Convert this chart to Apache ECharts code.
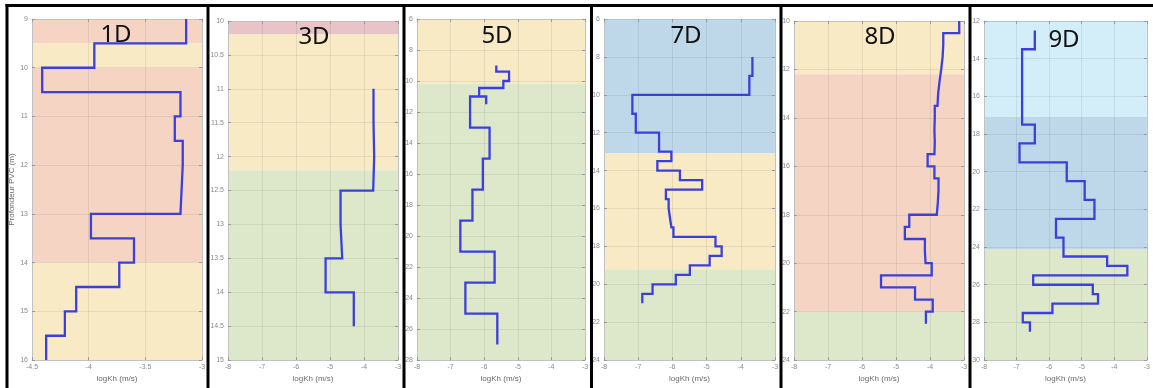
<!DOCTYPE html>
<html>
<head>
<meta charset="utf-8">
<script src="https://cdn.jsdelivr.net/npm/echarts@6/dist/echarts.min.js"></script>
<style>
  html, body { margin: 0; padding: 0; background: #ffffff; }
  #chart { width: 1153px; height: 388px; }
</style>
</head>
<body>
<div id="chart"></div>
<script>
// Forages : profils de perméabilité logKh en fonction de la profondeur
const titles = ['1D', '3D', '5D', '7D', '8D', '9D'];

// Limites de profondeur (m) et valeurs logKh (m/s) par tranche
const depth1D = [9, 9.5, 10, 10.5, 11, 11.5, 12, 12.5, 13, 13.5, 14, 14.5, 15, 15.5, 16];
const kh1D = [-3.14, -3.95, -4.41, -3.19, -3.24, -3.17, -3.18, -3.19, -3.98, -3.60, -3.73, -4.11, -4.21, -4.375];

const depth3D = [11, 11.5, 12, 12.5, 13, 13.5, 14, 14.5];
const kh3D = [-3.72, -3.70, -3.73, -4.69, -4.64, -5.13, -4.30];

const depth5D = [9, 9.4, 10, 10.45, 11, 11.5, 11, 13, 15, 17, 19, 21, 23, 25, 27];
const kh5D = [-5.64, -5.26, -5.43, -6.15, -5.94, -5.94, -6.42, -5.84, -6.04, -6.35, -6.71, -5.69, -6.56, -5.61];

const depth7D = [8, 9, 10, 11, 12, 13, 13.5, 14, 14.5, 15, 15.5, 16, 16.5, 17, 17.5, 18, 18.5, 19, 19.5, 20, 20.5, 21];
const kh7D = [-3.66, -3.75, -7.17, -7.07, -6.39, -6.03, -6.44, -5.78, -5.13, -6.19, -6.11, -6.07, -6.03, -5.97, -4.74, -4.56, -4.91, -5.49, -5.90, -6.58, -6.88];

const depth8D = [10, 10.5, 11, 11.5, 12, 12.5, 13, 13.5, 14, 14.5, 15, 15.5, 16, 16.5, 17, 17.5, 18, 18.5, 19, 19.5, 20, 20.5, 21, 21.5, 22, 22.5];
const kh8D = [-3.14, -3.61, -3.63, -3.67, -3.72, -3.76, -3.78, -3.86, -3.87, -3.86, -3.87, -4.07, -3.87, -3.75, -3.77, -3.80, -4.61, -4.74, -4.15, -4.13, -3.95, -5.44, -4.44, -3.92, -4.12];

const depth9D = [12.5, 13.5, 17.5, 18.5, 19.5, 20.5, 21.5, 22.5, 23.5, 24.5, 25, 25.5, 26, 26.5, 27, 27.5, 28, 28.5];
const kh9D = [-6.44, -6.83, -6.44, -6.91, -5.46, -4.91, -4.61, -5.79, -5.56, -4.22, -3.60, -6.49, -4.66, -4.50, -5.90, -6.81, -6.59];

// Horizons : [profondeur haut, profondeur bas, type de zone]
const bands1D = [[9, 9.5, 'rose'], [9.5, 10, 'jaune'], [10, 14, 'rose'], [14, 16, 'jaune']];
const bands3D = [[10, 10.2, 'mauve'], [10.2, 12.2, 'jaune'], [12.2, 15, 'vert']];
const bands5D = [[6, 10.2, 'jaune'], [10.2, 28, 'vert']];
const bands7D = [[6, 13.1, 'bleu'], [13.1, 19.2, 'jaune'], [19.2, 24, 'vert']];
const bands8D = [[10, 12.2, 'jaune'], [12.2, 22, 'rose'], [22, 24, 'vert']];
const bands9D = [[12, 17.1, 'bleuClair'], [17.1, 24.1, 'bleu'], [24.1, 30, 'vert']];

// Axes : [min, max, pas]
const xTicks = [[-4.5, -3, 0.5], [-8, -3, 1], [-8, -3, 1], [-8, -3, 1], [-8, -3, 1], [-8, -3, 1]];
const yTicks = [[9, 16, 1], [10, 15, 0.5], [6, 28, 2], [6, 24, 2], [10, 24, 2], [12, 30, 2]];

const depths = [depth1D, depth3D, depth5D, depth7D, depth8D, depth9D];
const khs = [kh1D, kh3D, kh5D, kh7D, kh8D, kh9D];
const bands = [bands1D, bands3D, bands5D, bands7D, bands8D, bands9D];

const zoneColors = {
  rose: '#f5d4c4',
  jaune: '#f9eac6',
  vert: '#dde8cb',
  bleu: '#bed8ea',
  bleuClair: '#d3edf9',
  mauve: '#e8c4c9'
};

// Cadres des graphiques : [gauche, haut, droite, bas] en pixels
const frames = [
  [32, 19, 202, 363],
  [228, 21, 398, 365],
  [417, 19, 585, 363],
  [604, 19, 775, 365],
  [794, 21, 964, 365],
  [984, 21, 1152, 364]
];
const titlePos = [[116, 35], [314, 37], [497, 36], [686, 36], [880, 37], [1064, 40]];
const dividers = [7, 208, 404, 591.5, 781, 970];

function stepPath(d, k) {
  const pts = [];
  for (let i = 0; i < k.length; i++) {
    pts.push([k[i], d[i]]);
    pts.push([k[i], d[i + 1]]);
  }
  return pts;
}

const labelStyle = { color: '#8a8a8a', fontSize: 7, fontFamily: 'Liberation Sans' };
const frameColor = '#c2c2c2';

const grid = [], xAxis = [], yAxis = [], series = [], graphic = [];

frames.forEach((f, i) => {
  grid.push({ left: f[0], top: f[1], width: f[2] - f[0], height: f[3] - f[1], show: false });
  const [xmin, xmax, xstep] = xTicks[i];
  const [ymin, ymax, ystep] = yTicks[i];
  const common = { gridIndex: i, type: 'value', z: 3 };
  xAxis.push({
    ...common, position: 'bottom', min: xmin, max: xmax, interval: xstep,
    name: 'logKh (m/s)', nameLocation: 'middle', nameGap: 14,
    nameTextStyle: { color: '#6a6a6a', fontSize: 8, fontFamily: 'Liberation Sans' },
    axisLine: { show: true, lineStyle: { color: frameColor, width: 1 } },
    axisTick: { show: true, inside: true, length: 3, lineStyle: { color: '#9a9a9a' } },
    axisLabel: { ...labelStyle, margin: 3 },
    splitLine: { show: true, lineStyle: { color: 'rgba(0,0,0,0.07)', width: 1 } }
  });
  xAxis.push({
    ...common, position: 'top', min: xmin, max: xmax, interval: xstep,
    axisLine: { show: true, lineStyle: { color: frameColor, width: 1 } },
    axisTick: { show: true, inside: true, length: 3, lineStyle: { color: '#9a9a9a' } },
    axisLabel: { show: false }, splitLine: { show: false }
  });
  yAxis.push({
    ...common, position: 'left', inverse: true, min: ymin, max: ymax, interval: ystep,
    name: i === 0 ? 'Profondeur PVC (m)' : '', nameLocation: 'middle', nameGap: 16, nameRotate: 90,
    nameTextStyle: { color: '#6a6a6a', fontSize: 8, fontFamily: 'Liberation Sans' },
    axisLine: { show: true, lineStyle: { color: frameColor, width: 1 } },
    axisTick: { show: true, inside: true, length: 3, lineStyle: { color: '#9a9a9a' } },
    axisLabel: { ...labelStyle, margin: 4 },
    splitLine: { show: true, lineStyle: { color: 'rgba(0,0,0,0.07)', width: 1 } }
  });
  yAxis.push({
    ...common, position: 'right', inverse: true, min: ymin, max: ymax, interval: ystep,
    axisLine: { show: true, lineStyle: { color: frameColor, width: 1 } },
    axisTick: { show: true, inside: true, length: 3, lineStyle: { color: '#9a9a9a' } },
    axisLabel: { show: false }, splitLine: { show: false }
  });

  // Horizons colorés
  series.push({
    type: 'line', xAxisIndex: 2 * i, yAxisIndex: 2 * i, z: 1, silent: true,
    data: [[xmin, ymin]], symbol: 'none', lineStyle: { opacity: 0 },
    markArea: {
      silent: true,
      data: bands[i].map(b => [
        { yAxis: b[0], itemStyle: { color: zoneColors[b[2]], opacity: 1 } },
        { yAxis: b[1] }
      ])
    }
  });
  // Profil logKh
  series.push({
    type: 'line', xAxisIndex: 2 * i, yAxisIndex: 2 * i, z: 5,
    data: stepPath(depths[i], khs[i]),
    symbol: 'none', silent: true,
    lineStyle: { color: '#3b3fdc', width: 2.3, join: 'miter' }
  });

  graphic.push({
    type: 'text', x: titlePos[i][0], y: titlePos[i][1], z: 10,
    style: {
      text: titles[i], fill: '#111111', fontSize: 24,
      fontFamily: 'Noto Sans', align: 'center', verticalAlign: 'middle'
    }
  });
});

// Séparateurs noirs entre les forages
graphic.push({
  type: 'line', z: 20,
  shape: { x1: 5.5, y1: 5.5, x2: 1153, y2: 5.5 },
  style: { stroke: '#000000', lineWidth: 3 }
});
dividers.forEach(x => {
  graphic.push({
    type: 'line', z: 20,
    shape: { x1: x, y1: 4, x2: x, y2: 388 },
    style: { stroke: '#000000', lineWidth: 3 }
  });
});

const chart = echarts.init(document.getElementById('chart'), null, { renderer: 'canvas' });
chart.setOption({
  animation: false,
  backgroundColor: '#ffffff',
  grid, xAxis, yAxis, series, graphic
});
</script>
</body>
</html>
